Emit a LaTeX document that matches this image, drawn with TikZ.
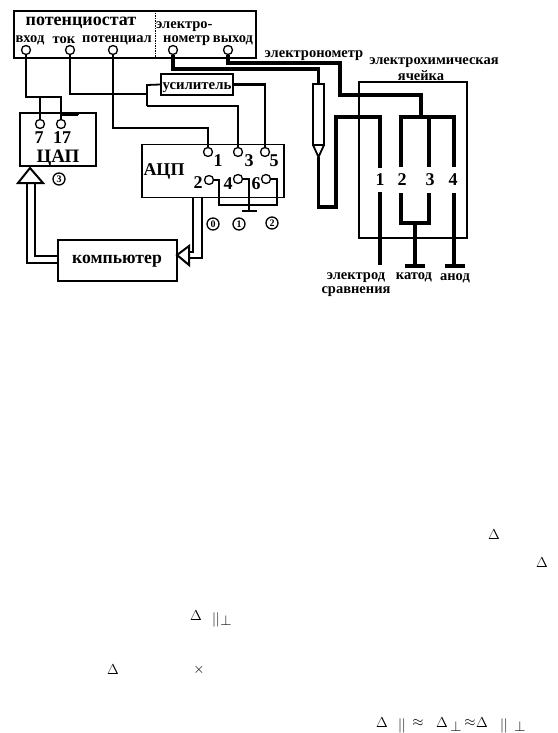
\documentclass[tikz,border=0pt]{standalone}
\usepackage{fontspec}
\setmainfont{Liberation Serif}
\tikzset{
  x=1pt,y=-1pt,
  boxn/.style={draw,line width=1.8pt,inner sep=0pt,rectangle},
  pin/.style={draw,circle,line width=1.3pt,fill=white,inner sep=0pt,minimum size=9pt},
  wire/.style={line width=1.8pt,line join=miter},
  heavy/.style={line width=3.2pt,line join=miter},
  thinw/.style={line width=1pt},
  lab/.style={inner sep=0pt,font=\bfseries\fontsize{14.5}{15}\selectfont},
  num/.style={inner sep=0pt,font=\bfseries\fontsize{18}{18}\selectfont},
  cnum/.style={draw,circle,line width=1.3pt,inner sep=0pt,minimum size=12pt,font=\bfseries\fontsize{10}{10}\selectfont},
  mth/.style={inner sep=0pt,font=\fontsize{15}{15}\selectfont}
}
\begin{document}
\begin{tikzpicture}
\useasboundingbox (0,0) rectangle (557,733);
% boxes
\node[boxn,minimum width=242pt,minimum height=47pt] (pot) at (135,34.5) {};
\draw[thinw,dash pattern=on 1.5pt off 1pt] (pot.north west -| 155,0) -- (pot.south west -| 155,0);
\node[boxn,minimum width=76pt,minimum height=53pt] (dac) at (58,139.5) {};
\node[boxn,minimum width=142pt,minimum height=53pt] (adc) at (213,171) {};
\node[boxn,minimum width=72pt,minimum height=21pt] (amp) at (197,84.5) {};
\node[boxn,minimum width=119pt,minimum height=41pt] (pc) at (117.5,260.5) {};
\node[draw,line width=1.8pt,inner sep=0pt,minimum width=11pt,minimum height=61pt] (tube) at (318.5,114.5) {};
\node[draw,line width=1.5pt,inner sep=0pt,minimum width=108pt,minimum height=156pt] (cell) at (413,160) {};
% pins
\node[pin] (pvh) at (26,50) {};
\node[pin] (ptk) at (70,50) {};
\node[pin] (ppt) at (113,50) {};
\node[pin] (pel) at (173,50) {};
\node[pin] (pvy) at (228,50) {};
\node[pin] (d7) at (40,124) {};
\node[pin] (d17) at (61,124) {};
\node[pin] (a1) at (208,152) {};
\node[pin] (a3) at (238,152) {};
\node[pin] (a5) at (265,152) {};
\node[pin] (a2) at (209,180) {};
\node[pin] (a4) at (238,179) {};
\node[pin] (a6) at (266,179) {};
% coordinates
\coordinate (j1) at (40,97);
\coordinate (j2) at (147,94);
\coordinate (gr) at (249,211);
\coordinate (dg) at (78,115);
% thin wires
\draw[wire] (pvh) |- (d17 |- j1) -- (d17);
\draw[wire] (j1) -- (d7);
\draw[wire] (ptk) |- (j2);
\draw[wire] (147,106) -- (147,85) -- (amp.west);
\draw[wire] (147,106) -| (a3);
\draw[wire] (ppt) |- (208,128) -- (a1);
\draw[wire,line width=2.2pt] (amp.east) -| (a5);
\draw[wire] (a2) -| (219,205) -- (277,205) |- (a6);
\draw[wire] (a4) -| (gr);
\draw[wire] (242,211) -- (257,211);
\draw[line width=2.4pt] (d17 |- dg) -- (dg);
\draw[wire] (78,112) -- (dg) (73,112.5) -- (83,112.5);
% double arrows
\draw[wire] (27,183) -- (27,263) -- (pc.west |- 0,263);
\draw[wire] (35,183) -- (35,256) -- (pc.west |- 0,256);
\draw[wire,line width=2pt] (18,183) -- (30,168) -- (43,183) -- cycle;
\draw[wire] (193,197) -- (193,252) -- (189,252);
\draw[wire,line width=2pt] (202,197) -- (202,258) -- (189,258);
\draw[wire,line width=2pt] (177,255) -- (189,246) -- (189,265) -- cycle;
% electrometer lines
\draw[heavy] (pel) |- (318.5,69) -- (tube.north);
\draw[heavy] (pvy) |- (340,63) |- (421,95) -- (421,117);
\draw[wire] (313,145) -- (318.5,157) -- (324,145);
\draw[heavy] (318.5,157) -- (318.5,207) -- (336,207) -- (336,117) -- (380,117) -- (380,168);
\draw[heavy] (380,192) -- (380,265);
\draw[heavy] (429,117) -- (401,117) -- (401,167);
\draw[heavy] (401,193) -- (401,223) -- (429,223) -- (429,193);
\draw[heavy] (429,117) -- (429,167);
\draw[heavy] (429,117) -- (454,117) -- (454,167);
\draw[heavy] (454,193) -- (454,265);
\draw[heavy] (415,223) -- (415,265);
\draw[line width=3.2pt] (405,266) -- (425,266);
\draw[line width=3.6pt] (445,266) -- (465,266);
% labels
\node[inner sep=0pt,font=\bfseries\fontsize{18}{18}\selectfont] (tpot) at (81,23) {потенциостат};
\node[lab] (tvh) at (30,40.5) {вход};
\node[lab] (ttk) at (64,40.5) {ток};
\node[lab] (tpt) at (117,40.5) {потенциал};
\node[lab,anchor=west] (tel1) at (156,27) {электро-};
\node[lab,anchor=west] (tel2) at (163,40.5) {нометр};
\node[lab] (tvy) at (233,40.5) {выход};
\node[num] at (39,138) {7};
\node[num] at (62,138) {17};
\node[inner sep=0pt,font=\bfseries\fontsize{19}{19}\selectfont] (tdac) at (58,158) {ЦАП};
\node[inner sep=0pt,font=\bfseries\fontsize{18}{18}\selectfont] (tadc) at (164,171) {АЦП};
\node[inner sep=0pt,font=\bfseries\fontsize{14.8}{15}\selectfont] (tamp) at (197,88) {усилитель};
\node[inner sep=0pt,font=\bfseries\fontsize{17.7}{18}\selectfont] (tpc) at (117,261) {компьютер};
\node[num] at (218,161) {1};
\node[num] at (249,161) {3};
\node[num] at (274,161) {5};
\node[num] at (198,183) {2};
\node[num] at (228,184) {4};
\node[num] at (256,184) {6};
\node[cnum] at (59,179) {3};
\node[cnum] at (213,224) {0};
\node[cnum] at (239,224) {1};
\node[cnum] at (272,223) {2};
\node[num] (e1) at (380,180) {1};
\node[num] (e2) at (402,180) {2};
\node[num] (e3) at (430,180) {3};
\node[num] (e4) at (453,180) {4};
\node[lab] (ten) at (314,56) {электронометр};
\node[lab] (tech) at (434,63) {электрохимическая};
\node[lab] (tya) at (421,76) {ячейка};
\node[lab] (tes1) at (356,278) {электрод};
\node[lab] (tes2) at (356,292) {сравнения};
\node[lab] (tka) at (414,277) {катод};
\node[lab] (tan) at (455,278) {анод};
% residual formula fragments
\node[mth] at (494,535) {$\Delta$};
\node[mth] at (542,563) {$\Delta$};
\node[mth] at (196,616) {$\Delta$};
\node[mth] at (216,620) {$||$};
\node[mth] at (226,620) {$\perp$};
\node[mth] at (113,670) {$\Delta$};
\node[mth] at (199,670) {$\times$};
\node[mth] at (382,723) {$\Delta$};
\node[mth] at (402,726) {$||$};
\node[mth] at (418,723) {$\approx$};
\node[mth] at (442,723) {$\Delta$};
\node[mth] at (456,726) {$\perp$};
\node[mth] at (470,723) {$\approx$};
\node[mth] at (482,723) {$\Delta$};
\node[mth] at (504,726) {$||$};
\node[mth] at (520,726) {$\perp$};
\end{tikzpicture}
\end{document}
